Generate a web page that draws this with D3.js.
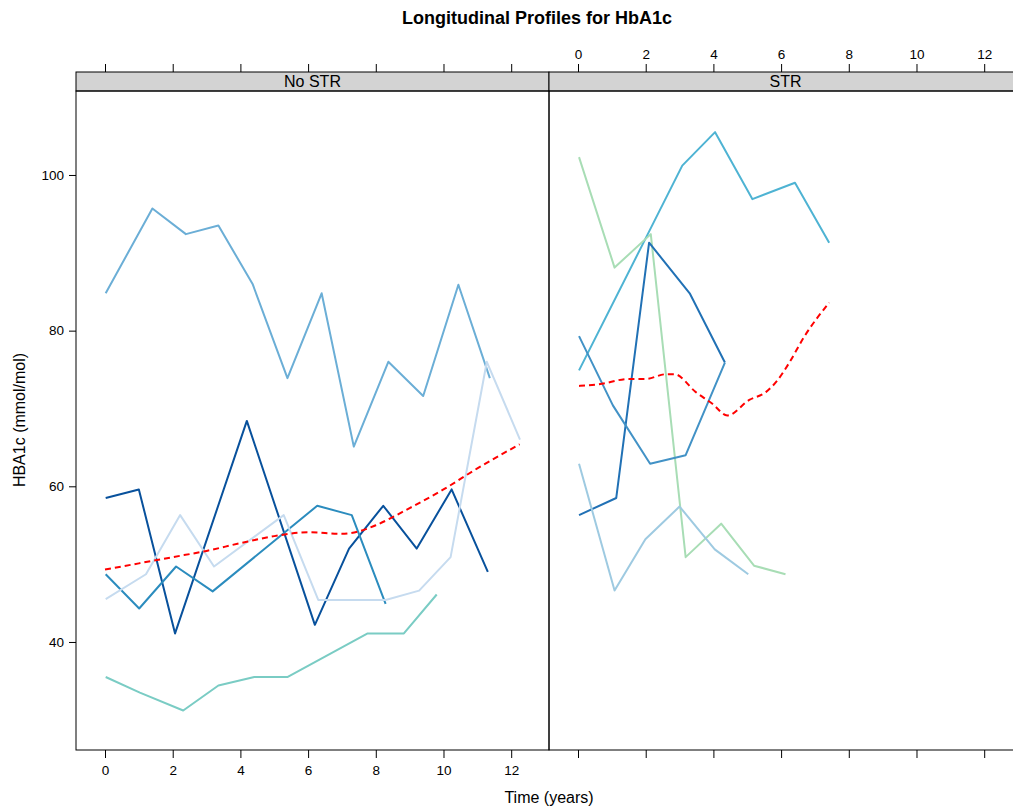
<!DOCTYPE html>
<html>
<head>
<meta charset="utf-8">
<script src="https://cdn.jsdelivr.net/npm/d3@7"></script>
<style>
  html, body { margin: 0; padding: 0; background: #fff; }
  svg { display: block; font-family: "Liberation Sans", Arial, sans-serif; }
</style>
</head>
<body>
<svg id="chart" width="1013" height="811"></svg>
<script>
// ---------- data ----------
const panels = ["No STR", "STR"];
const xTicks = [0, 2, 4, 6, 8, 10, 12];
const yTicks = [40, 60, 80, 100];

// No STR subjects: [time, value]
const noA = [[0.02,84.8],[1.40,95.7],[2.39,92.4],[3.35,93.5],[4.36,86.0],[5.39,73.9],[6.40,84.8],[7.35,65.1],[8.37,76.0],[9.40,71.6],[10.44,85.9],[11.37,73.9]];
const noB = [[0.02,58.5],[1.00,59.6],[2.07,41.1],[4.19,68.4],[6.20,42.2],[7.21,52.0],[8.22,57.5],[9.21,52.0],[10.24,59.6],[11.31,49.0]];
const noC = [[0.02,48.7],[1.01,44.3],[2.10,49.7],[3.18,46.5],[6.27,57.5],[7.29,56.3],[8.29,44.9]];
const noD = [[0.02,45.5],[1.21,48.7],[2.22,56.3],[3.22,49.7],[5.28,56.3],[6.30,45.4],[8.29,45.4],[9.28,46.6],[10.21,50.9],[11.28,76.0],[12.26,66.0]];
const noE = [[0.02,35.5],[1.03,33.5],[2.31,31.2],[3.35,34.4],[4.41,35.5],[5.40,35.5],[7.76,41.1],[8.83,41.1],[9.80,46.1]];
const noMean = [[0,49.3],[1,50.1],[2,50.9],[3,51.7],[4,52.7],[5,53.6],[6,54.1],[7,53.9],[7.5,54.2],[8,55.0],[9,57.2],[10,59.6],[11,62.3],[12.25,65.4]];

// STR subjects
const sF = [[0.03,74.9],[2.05,92.3],[3.08,101.2],[4.05,105.5],[5.15,96.9],[6.41,99.0],[7.42,91.3]];
const sG = [[0.03,102.3],[1.08,88.1],[2.15,92.4],[3.18,50.9],[4.23,55.2],[5.20,49.8],[6.13,48.7]];
const sH = [[0.03,56.3],[1.13,58.5],[2.10,91.3],[3.30,84.8],[4.34,75.9]];
const sI = [[0.03,79.3],[1.03,70.4],[2.13,62.9],[3.18,64.0],[4.34,75.9]];
const sJ = [[0.03,62.9],[1.08,46.6],[1.99,53.2],[3.00,57.4],[4.04,51.9],[5.03,48.7]];
const strMean = [[0.03,72.9],[0.62,73.1],[1.5,73.8],[2.0,73.8],[2.6,74.4],[2.85,74.4],[3.48,72.1],[3.97,70.6],[4.41,69.1],[5.06,71.1],[5.55,72.1],[5.89,73.6],[6.23,75.8],[6.68,79.2],[7.42,83.6]];

const noSeries = [
  {pts: noA, color: "#6baed6"},
  {pts: noB, color: "#08519c"},
  {pts: noC, color: "#2b8cbe"},
  {pts: noD, color: "#c6dbef"},
  {pts: noE, color: "#7accc4"}
];
const strSeries = [
  {pts: sF, color: "#4eb3d3"},
  {pts: sG, color: "#a8ddb5"},
  {pts: sH, color: "#2171b5"},
  {pts: sI, color: "#4292c6"},
  {pts: sJ, color: "#9ecae1"}
];

// ---------- layout ----------
const svg = d3.select("#chart");
const panelTop = 91, panelBottom = 750, stripTop = 72;
const panelW = 473;
const panelLefts = [76, 549];
const tickFont = 13.5;

const y = d3.scaleLinear().domain([26.12, 110.79]).range([panelBottom, panelTop]);

svg.append("text").attr("x", 537).attr("y", 24).attr("text-anchor", "middle")
  .attr("font-size", 18).attr("font-weight", "bold").text("Longitudinal Profiles for HbA1c");

svg.append("text").attr("x", 549).attr("y", 803).attr("text-anchor", "middle")
  .attr("font-size", 16).text("Time (years)");

svg.append("text").attr("transform", "translate(25," + 420 + ") rotate(-90)")
  .attr("text-anchor", "middle").attr("font-size", 16).text("HBA1c (mmol/mol)");

const line = (xs) => d3.line().x(d => xs(d[0])).y(d => y(d[1]));

[noSeries, strSeries].forEach((series, i) => {
  const left = panelLefts[i];
  const x = d3.scaleLinear().domain([-0.857, 13.117]).range([left, left + panelW]);
  const g = svg.append("g");

  // strip
  g.append("rect").attr("x", left).attr("y", stripTop).attr("width", panelW).attr("height", panelTop - stripTop)
    .attr("fill", "#d3d3d3").attr("stroke", "#000").attr("stroke-width", 1);
  g.append("text").attr("x", left + panelW / 2).attr("y", panelTop - 4).attr("text-anchor", "middle")
    .attr("font-size", 16).text(panels[i]);

  // clip
  const clipId = "clip" + i;
  svg.append("clipPath").attr("id", clipId).append("rect")
    .attr("x", left).attr("y", panelTop).attr("width", panelW).attr("height", panelBottom - panelTop);
  const pg = g.append("g").attr("clip-path", "url(#" + clipId + ")");

  series.forEach(s => {
    pg.append("path").datum(s.pts).attr("d", line(x)).attr("fill", "none")
      .attr("stroke", s.color).attr("stroke-width", 2).attr("stroke-linejoin", "round");
  });
  const mean = i === 0 ? noMean : strMean;
  pg.append("path").datum(mean).attr("d", line(x).curve(d3.curveMonotoneX)).attr("fill", "none")
    .attr("stroke", "#ff0000").attr("stroke-width", 2).attr("stroke-dasharray", "6,4");

  // panel border
  g.append("rect").attr("x", left).attr("y", panelTop).attr("width", panelW).attr("height", panelBottom - panelTop)
    .attr("fill", "none").attr("stroke", "#000").attr("stroke-width", 1);

  // bottom axis
  const bAxis = d3.axisBottom(x).tickValues(xTicks).tickSize(8).tickPadding(7)
    .tickFormat(i === 0 ? d3.format("d") : () => "");
  const bg = g.append("g").attr("transform", "translate(0," + panelBottom + ")").call(bAxis);
  bg.select(".domain").remove();
  bg.selectAll("text").attr("font-size", tickFont).attr("font-family", "Liberation Sans, Arial, sans-serif").attr("fill", "#000");

  // top axis
  const tAxis = d3.axisTop(x).tickValues(xTicks).tickSize(8).tickPadding(5)
    .tickFormat(i === 1 ? d3.format("d") : () => "");
  const tg = g.append("g").attr("transform", "translate(0," + stripTop + ")").call(tAxis);
  tg.select(".domain").remove();
  tg.selectAll("text").attr("font-size", tickFont).attr("font-family", "Liberation Sans, Arial, sans-serif").attr("fill", "#000");

  if (i === 0) {
    const lAxis = d3.axisLeft(y).tickValues(yTicks).tickSize(7).tickPadding(5).tickFormat(d3.format("d"));
    const lg = g.append("g").attr("transform", "translate(" + left + ",0)").call(lAxis);
    lg.select(".domain").remove();
    lg.selectAll("text").attr("font-size", tickFont).attr("font-family", "Liberation Sans, Arial, sans-serif").attr("fill", "#000");
  }
});
</script>
</body>
</html>
